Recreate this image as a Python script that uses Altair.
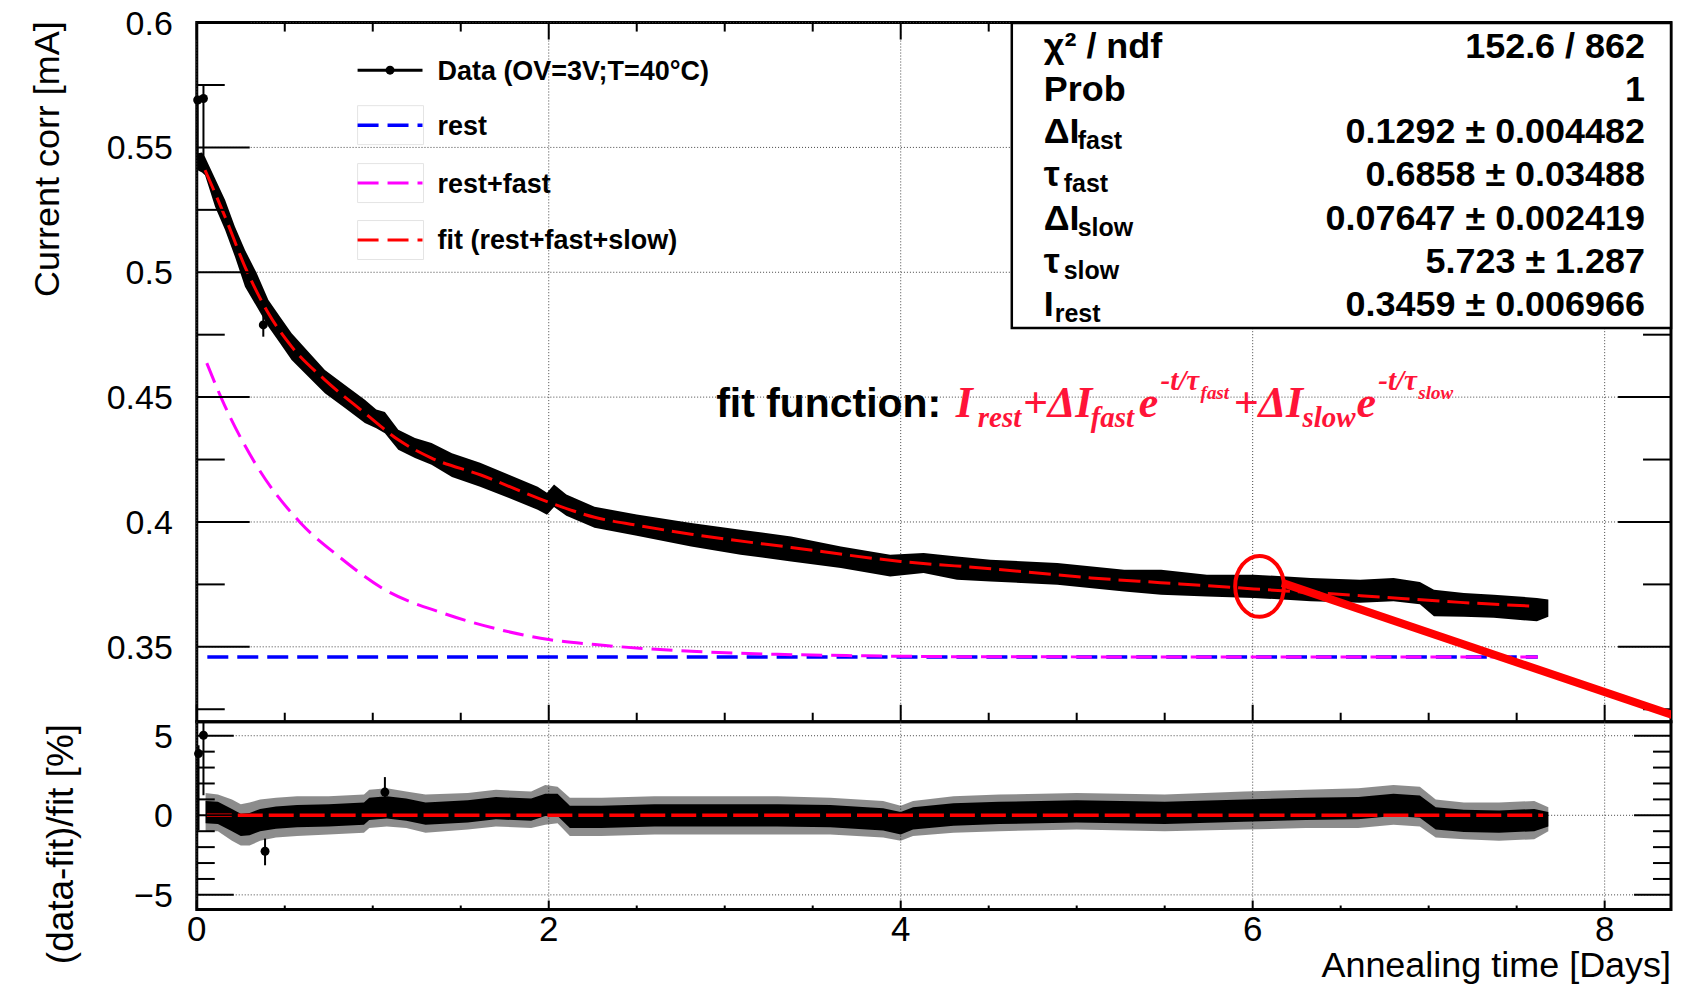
import altair as alt
import pandas as pd

# ---------------- values ----------------
# Upper panel: envelope of the dense measured band  (annealing time [days], current [mA])
band_t = [0.005, 0.03, 0.047, 0.104, 0.161, 0.217, 0.274, 0.341, 0.407, 0.473,
          0.539, 0.634, 0.728, 0.842, 0.955, 1.02, 1.069, 1.145, 1.24, 1.334,
          1.45, 1.61, 1.774, 1.937, 1.99, 2.03, 2.1, 2.26, 2.5, 2.809,
          3.09, 3.377, 3.66, 3.94, 4.13, 4.32, 4.51, 4.89, 5.27, 5.48,
          5.74, 6.006, 6.33, 6.61, 6.80, 6.95, 7.03, 7.2, 7.37, 7.615, 7.68]
band_hi = [0.5477, 0.5480, 0.5462, 0.5376, 0.5289, 0.5182, 0.5089, 0.4996, 0.4889, 0.4822,
           0.4756, 0.4682, 0.4609, 0.4549, 0.4489, 0.4450, 0.4440, 0.4369, 0.4336, 0.4316,
           0.4275, 0.4237, 0.4189, 0.4141, 0.4117, 0.4150, 0.4110, 0.4061, 0.4030, 0.3996,
           0.3969, 0.3942, 0.3902, 0.3869, 0.3876, 0.3862, 0.3849, 0.3836, 0.3809, 0.3809,
           0.3789, 0.3789, 0.3776, 0.3769, 0.3776, 0.3760, 0.3729, 0.3716, 0.3709, 0.3696, 0.3690]
band_lo = [0.5409, 0.5400, 0.5389, 0.5262, 0.5169, 0.5062, 0.4942, 0.4862, 0.4782, 0.4716,
           0.4649, 0.4582, 0.4516, 0.4456, 0.4396, 0.4375, 0.4355, 0.4289, 0.4256, 0.4229,
           0.4180, 0.4141, 0.4096, 0.4049, 0.4029, 0.4060, 0.4025, 0.3977, 0.3945, 0.3902,
           0.3869, 0.3842, 0.3816, 0.3782, 0.3796, 0.3769, 0.3762, 0.3749, 0.3722, 0.3709,
           0.3702, 0.3696, 0.3683, 0.3676, 0.3683, 0.3670, 0.3622, 0.3620, 0.3616, 0.3602, 0.3620]

# isolated data points with error bars (upper panel)
pts_t = [0.005, 0.038, 0.378]
pts_v = [0.5690, 0.5696, 0.4789]
pts_lo = [0.5449, 0.5449, 0.4742]
pts_hi = [0.5703, 0.5749, 0.4857]

# fit curve (rest+fast+slow)
fit_t = [0.047, 0.161, 0.274, 0.407, 0.539, 0.728, 0.955, 1.145, 1.334, 1.61, 2.0, 2.26,
         2.5, 2.809, 3.377, 4.0, 4.512, 5.08, 5.477, 6.006, 6.612, 7.179, 7.615]
fit_v = [0.5409, 0.5222, 0.5022, 0.4836, 0.4702, 0.4569, 0.4436, 0.4329, 0.4256, 0.4189, 0.4079, 0.4019,
         0.3987, 0.3951, 0.3898, 0.3842, 0.3813, 0.3776, 0.3757, 0.3732, 0.3705, 0.3678, 0.3662]

# rest+fast component
rf_t = [0.057, 0.144, 0.331, 0.59, 0.807, 1.068, 1.394, 1.72, 2.0, 2.264, 2.809, 3.3, 3.8, 4.5, 7.62]
rf_v = [0.4636, 0.4489, 0.4236, 0.3996, 0.3862, 0.3729, 0.3636, 0.3569, 0.3529, 0.3509, 0.3482,
        0.3470, 0.3464, 0.3460, 0.3459]

# rest component
rest_t = [0.06, 7.62]
rest_v = [0.3459, 0.3459]

# Lower panel: residual band (outer envelope of the spikes and dense core), in %
res_t = [0.05, 0.12, 0.2, 0.25, 0.3, 0.36, 0.45, 0.57, 0.75, 0.95,
         0.98, 1.08, 1.19, 1.3, 1.54, 1.7, 1.9, 1.98, 2.05, 2.12,
         2.3, 2.6, 2.95, 3.3, 3.6, 3.9, 4.0, 4.07, 4.3, 4.56,
         5.0, 5.5, 5.95, 6.3, 6.6, 6.8, 6.95, 7.04, 7.2, 7.4, 7.6, 7.68]
res_hi = [1.4, 1.3, 1.0, 0.7, 0.8, 1.0, 1.1, 1.2, 1.2, 1.3,
          1.6, 1.7, 1.5, 1.3, 1.4, 1.6, 1.5, 1.9, 1.8, 1.1,
          1.1, 1.2, 1.2, 1.2, 1.1, 0.9, 0.6, 0.9, 1.2, 1.3,
          1.4, 1.3, 1.5, 1.6, 1.7, 1.9, 1.8, 1.0, 0.8, 0.8, 0.9, 0.5]
res_lo = [-1.0, -1.0, -1.6, -1.9, -1.9, -1.6, -1.4, -1.3, -1.2, -1.1,
          -0.8, -0.7, -0.8, -1.1, -0.9, -0.7, -0.8, -0.6, -0.5, -1.3,
          -1.3, -1.2, -1.2, -1.2, -1.2, -1.4, -1.6, -1.3, -1.1, -1.0,
          -0.9, -1.0, -0.9, -0.8, -0.8, -0.6, -0.7, -1.4, -1.5, -1.6, -1.5, -1.0]
res_core_hi = [0.9, 0.85, 0.4, 0.1, 0.15, 0.4, 0.55, 0.65, 0.7, 0.8,
               1.1, 1.2, 1.05, 0.8, 0.95, 1.15, 1.05, 1.35, 1.35, 0.6,
               0.6, 0.7, 0.7, 0.7, 0.65, 0.45, 0.2, 0.5, 0.75, 0.85,
               0.95, 0.85, 1.0, 1.1, 1.15, 1.35, 1.25, 0.5, 0.35, 0.3, 0.4, 0.2]
res_core_lo = [-0.5, -0.55, -1.0, -1.3, -1.25, -1.0, -0.85, -0.75, -0.7, -0.6,
               -0.3, -0.2, -0.35, -0.6, -0.45, -0.25, -0.35, -0.05, -0.05, -0.8,
               -0.8, -0.7, -0.7, -0.7, -0.75, -0.95, -1.2, -0.9, -0.65, -0.55,
               -0.45, -0.55, -0.4, -0.3, -0.25, -0.05, -0.15, -0.9, -1.05, -1.1, -1.0, -0.7]

# isolated residual points with error bars
rpts_t = [0.01, 0.038, 0.388, 1.069]
rpts_v = [3.88, 5.03, -2.26, 1.46]
rpts_lo = [-0.94, 1.26, -3.14, 1.05]
rpts_hi = [4.40, 5.86, -1.46, 2.40]

# zero line of the residual panel
zero_t = [0.057]
zero_t2 = [7.65]

# annotation (red ellipse and line)
circle_t = [6.039]
circle_v = [0.3742]
arrow_t, arrow_v = [6.167], [0.3756]
arrow_t2, arrow_v2 = [8.43], [0.3216]

# axis ticks / labels
x_major = [0, 2, 4, 6, 8]
x_labels = ["0", "2", "4", "6", "8"]
x_minor = [0.5, 1, 1.5, 2.5, 3, 3.5, 4.5, 5, 5.5, 6.5, 7, 7.5]
y_up_major = [0.35, 0.4, 0.45, 0.5, 0.55, 0.6]
y_up_labels = ["0.35", "0.4", "0.45", "0.5", "0.55", "0.6"]
y_up_minor = [0.325, 0.375, 0.425, 0.475, 0.525, 0.575]
y_lo_major = [-5, 0, 5]
y_lo_labels = ["\u22125", "0", "5"]
y_lo_minor = [-4, -3, -2, -1, 1, 2, 3, 4]

x_title = "Annealing time [Days]"
y_up_title = "Current corr [mA]"
y_lo_title = "(data-fit)/fit [%]"

legend_labels = ["Data (OV=3V;T=40°C)", "rest", "rest+fast", "fit (rest+fast+slow)"]

stat_symbol = ["χ² / ndf", "Prob", "ΔI", "τ", "ΔI", "τ", "I"]
stat_sub = ["", "", "fast", "fast", "slow", "slow", "rest"]
stat_value = ["152.6 / 862", "1", "0.1292 ± 0.004482", "0.6858  ± 0.03488",
              "0.07647 ± 0.002419", "5.723  ± 1.287", "0.3459 ± 0.006966"]

# ---------------- layout / style ----------------
W = 1476
H_UP = 700
H_LO = 188
X_DOMAIN = [0, 8.377]
Y_UP_DOMAIN = [0.32, 0.6]
Y_LO_DOMAIN = [-5.92, 5.88]

FONT = "Liberation Sans"
SERIF = "Liberation Serif"
RED = "#ff0000"
FRED = "#ff1438"
BLUE = "#0000ff"
MAG = "#ff00ff"
GRIDC = "#444444"

xs = alt.Scale(domain=X_DOMAIN, nice=False, zero=False)
ysu = alt.Scale(domain=Y_UP_DOMAIN, nice=False, zero=False)
ysl = alt.Scale(domain=Y_LO_DOMAIN, nice=False, zero=False)

one = pd.DataFrame({"k": [0]})


def ptext(s, x, y, size, color="black", font=FONT, weight="bold", style="normal",
          align="left", baseline="alphabetic", angle=0):
    kw = dict(text=s, font=font, fontSize=size, fontWeight=weight, fontStyle=style,
              color=color, align=align, baseline=baseline)
    if angle:
        kw["angle"] = angle
    return alt.Chart(one).mark_text(**kw).encode(x=alt.value(x), y=alt.value(y))


def prule(x0, x1, y0, y1, color, width, dash=None):
    kw = dict(color=color, strokeWidth=width)
    if dash:
        kw["strokeDash"] = dash
    return alt.Chart(one).mark_rule(**kw).encode(
        x=alt.value(x0), x2=alt.value(x1), y=alt.value(y0), y2=alt.value(y1))


def yticks(vals, ys, length, side):
    x0, x1 = (0, length) if side == "left" else (W - length, W)
    return alt.Chart(pd.DataFrame({"v": vals})).mark_rule(color="black", strokeWidth=2).encode(
        y=alt.Y("v:Q", scale=ys, axis=None), x=alt.value(x0), x2=alt.value(x1))


def xticks(vals, length, side, h):
    y0, y1 = (0, length) if side == "top" else (h - length, h)
    return alt.Chart(pd.DataFrame({"v": vals})).mark_rule(color="black", strokeWidth=2).encode(
        x=alt.X("v:Q", scale=xs, axis=None), y=alt.value(y0), y2=alt.value(y1))


def vgrid(h):
    return alt.Chart(pd.DataFrame({"v": x_major})).mark_rule(
        color=GRIDC, strokeWidth=1, strokeDash=[1, 2]).encode(
        x=alt.X("v:Q", scale=xs, axis=None), y=alt.value(0), y2=alt.value(h))


def hgrid(vals, ys):
    return alt.Chart(pd.DataFrame({"v": vals})).mark_rule(
        color=GRIDC, strokeWidth=1, strokeDash=[1, 2]).encode(
        y=alt.Y("v:Q", scale=ys, axis=None), x=alt.value(0), x2=alt.value(W))


def ylabels(vals, labs, ys):
    return alt.Chart(pd.DataFrame({"v": vals, "lab": labs})).mark_text(
        font=FONT, fontSize=34, color="black", align="right", baseline="middle", dy=2).encode(
        y=alt.Y("v:Q", scale=ys, axis=None), x=alt.value(-24), text="lab:N")


def curve(ts, vs, color, dash, width, ys):
    return alt.Chart(pd.DataFrame({"t": ts, "v": vs})).mark_line(
        color=color, strokeDash=dash, strokeWidth=width, interpolate="monotone"
    ).encode(x=alt.X("t:Q", scale=xs, axis=None), y=alt.Y("v:Q", scale=ys, axis=None))


# ---------------- upper panel ----------------
band = alt.Chart(pd.DataFrame({"t": band_t, "hi": band_hi, "lo": band_lo})).mark_area(
    color="black", opacity=1).encode(
    x=alt.X("t:Q", scale=xs, axis=None),
    y=alt.Y("hi:Q", scale=ysu, axis=None),
    y2="lo:Q")

pts_df = pd.DataFrame({"t": pts_t, "v": pts_v, "lo": pts_lo, "hi": pts_hi})
pts_bars = alt.Chart(pts_df).mark_rule(color="black", strokeWidth=2).encode(
    x=alt.X("t:Q", scale=xs, axis=None), y=alt.Y("lo:Q", scale=ysu, axis=None), y2="hi:Q")
pts = alt.Chart(pts_df).mark_point(filled=True, size=80, color="black", opacity=1).encode(
    x=alt.X("t:Q", scale=xs, axis=None), y=alt.Y("v:Q", scale=ysu, axis=None))

rest_line = curve(rest_t, rest_v, BLUE, [21, 9], 3.5, ysu)
rf_line = curve(rf_t, rf_v, MAG, [21, 9], 3, ysu)
fit_line = curve(fit_t, fit_v, RED, [22, 8], 3, ysu)

ticks_up = [
    yticks(y_up_major, ysu, 53, "left"), yticks(y_up_minor, ysu, 28, "left"),
    yticks(y_up_major, ysu, 53, "right"), yticks(y_up_minor, ysu, 28, "right"),
    xticks(x_major, 17, "top", H_UP), xticks(x_minor, 9, "top", H_UP),
    xticks(x_major, 17, "bottom", H_UP), xticks(x_minor, 9, "bottom", H_UP),
]
axes_up = [
    ylabels(y_up_major, y_up_labels, ysu),
    ptext(y_up_title, -149, 136.7, 36, weight="normal", align="center", baseline="middle", angle=270),
]

# legend (drawn ROOT style)
LEG_X0, LEG_X1, LEG_TX = 161, 226, 241
LEG_Y = [47.7, 102.7, 160.7, 217.7]
legend = []
for yy in LEG_Y[1:]:
    legend.append(alt.Chart(one).mark_rect(fill="white", fillOpacity=0, stroke="#e4e4e4",
                                           strokeWidth=1).encode(
        x=alt.value(LEG_X0), x2=alt.value(LEG_X1 + 1), y=alt.value(yy - 19.5), y2=alt.value(yy + 19.5)))
legend.append(prule(LEG_X0, LEG_X1, LEG_Y[0], LEG_Y[0], "black", 3))
legend.append(alt.Chart(one).mark_point(filled=True, size=80, color="black", opacity=1).encode(
    x=alt.value((LEG_X0 + LEG_X1) / 2), y=alt.value(LEG_Y[0])))
legend.append(prule(LEG_X0, LEG_X1, LEG_Y[1], LEG_Y[1], BLUE, 3.5, [21, 9]))
legend.append(prule(LEG_X0, LEG_X1, LEG_Y[2], LEG_Y[2], MAG, 3, [21, 9]))
legend.append(prule(LEG_X0, LEG_X1, LEG_Y[3], LEG_Y[3], RED, 3, [21, 9]))
for lab, yy in zip(legend_labels, LEG_Y):
    legend.append(ptext(lab, LEG_TX, yy + 9.5, 27))

# statistics box
stats = [alt.Chart(one).mark_rect(fill="white", stroke="black", strokeWidth=2.5).encode(
    x=alt.value(816), x2=alt.value(W), y=alt.value(0.5), y2=alt.value(305.7))]
ROW_Y = [35, 78.4, 121, 163.4, 207.7, 250.7, 293.4]
SUB_X = {"ΔI": 882, "τ": 868, "I": 859}
for sym, sub, val, yy in zip(stat_symbol, stat_sub, stat_value, ROW_Y):
    stats.append(ptext(sym, 848, yy, 36))
    if sub:
        stats.append(ptext(sub, SUB_X[sym], yy + 6, 25))
    stats.append(ptext(val, 1450, yy, 36, align="right"))

# fit-function annotation
BASE = 394.7


def red(s, x, dy, size):
    return ptext(s, x, BASE + dy, size, FRED, SERIF, "bold", "italic")


formula = [
    ptext("fit function:", 520, BASE, 41),
    red("I", 760, 0, 44),
    red("rest", 782, 10, 29),
    red("+ΔI", 827, 0, 44),
    red("fast", 895, 10, 29),
    red("e", 943, 0, 44),
    red("-t/τ", 965, -27, 29),
    red("fast", 1005, -18, 19),
    red("+ΔI", 1038, 0, 44),
    red("slow", 1107, 10, 29),
    red("e", 1161, 0, 44),
    red("-t/τ", 1183, -27, 29),
    red("slow", 1223, -18, 19),
]

ELLIPSE = "M0,-1 A0.8,1 0 1,1 0,1 A0.8,1 0 1,1 0,-1 Z"
circ = alt.Chart(pd.DataFrame({"t": circle_t, "v": circle_v})).mark_point(
    shape=ELLIPSE, size=3721, filled=False, color=RED, strokeWidth=4, opacity=1).encode(
    x=alt.X("t:Q", scale=xs, axis=None), y=alt.Y("v:Q", scale=ysu, axis=None))
arrow = alt.Chart(pd.DataFrame({"t": arrow_t, "v": arrow_v, "t2": arrow_t2, "v2": arrow_v2})).mark_rule(
    color=RED, strokeWidth=8, clip=True).encode(
    x=alt.X("t:Q", scale=xs, axis=None), y=alt.Y("v:Q", scale=ysu, axis=None), x2="t2:Q", y2="v2:Q")

upper = alt.layer(vgrid(H_UP), hgrid(y_up_major, ysu), rest_line, rf_line, band, pts_bars, pts,
                  fit_line, *ticks_up, *axes_up, *legend, *stats, *formula, circ, arrow
                  ).properties(width=W, height=H_UP)

# ---------------- lower panel ----------------
res_df = pd.DataFrame({"t": res_t, "hi": res_hi, "lo": res_lo, "chi": res_core_hi, "clo": res_core_lo})
res_outer = alt.Chart(res_df).mark_area(color="black", opacity=0.45).encode(
    x=alt.X("t:Q", scale=xs, axis=None), y=alt.Y("hi:Q", scale=ysl, axis=None), y2="lo:Q")
res_core = alt.Chart(res_df).mark_area(color="black", opacity=1).encode(
    x=alt.X("t:Q", scale=xs, axis=None), y=alt.Y("chi:Q", scale=ysl, axis=None), y2="clo:Q")

rp_df = pd.DataFrame({"t": rpts_t, "v": rpts_v, "lo": rpts_lo, "hi": rpts_hi})
rp_bars = alt.Chart(rp_df).mark_rule(color="black", strokeWidth=2).encode(
    x=alt.X("t:Q", scale=xs, axis=None), y=alt.Y("lo:Q", scale=ysl, axis=None), y2="hi:Q")
rp_pts = alt.Chart(rp_df).mark_point(filled=True, size=80, color="black", opacity=1).encode(
    x=alt.X("t:Q", scale=xs, axis=None), y=alt.Y("v:Q", scale=ysl, axis=None))

zero_line = alt.Chart(pd.DataFrame({"t": zero_t, "t2": zero_t2, "r": [0]})).mark_rule(
    color=RED, strokeWidth=3.5, strokeDash=[25, 6]).encode(
    x=alt.X("t:Q", scale=xs, axis=None), x2="t2:Q", y=alt.Y("r:Q", scale=ysl, axis=None))

ticks_lo = [
    yticks(y_lo_major, ysl, 37, "left"), yticks(y_lo_minor, ysl, 18, "left"),
    yticks(y_lo_major, ysl, 37, "right"), yticks(y_lo_minor, ysl, 18, "right"),
    xticks(x_major, 9, "bottom", H_LO), xticks(x_minor, 4, "bottom", H_LO),
]
xlab = alt.Chart(pd.DataFrame({"v": x_major, "lab": x_labels})).mark_text(
    font=FONT, fontSize=35, color="black", align="center", baseline="top").encode(
    x=alt.X("v:Q", scale=xs, axis=None), y=alt.value(H_LO + 4), text="lab:N")
axes_lo = [
    ylabels(y_lo_major, y_lo_labels, ysl),
    xlab,
    ptext(y_lo_title, -135, 122.5, 37, weight="normal", align="center", baseline="middle", angle=270),
    ptext(x_title, W, H_LO + 68, 36, weight="normal", align="right"),
]

lower = alt.layer(vgrid(H_LO), hgrid(y_lo_major, ysl), res_outer, res_core, rp_bars, rp_pts,
                  zero_line, *ticks_lo, *axes_lo).properties(width=W, height=H_LO)

chart = alt.vconcat(upper, lower, spacing=0, bounds="flush").resolve_scale(
    x="independent", y="independent").properties(
    padding={"left": 20, "top": -3, "right": 0, "bottom": 0}, background="white"
).configure_view(stroke="black", strokeWidth=3)

chart.save("out.html", embed_options={"renderer": "svg", "actions": False})
